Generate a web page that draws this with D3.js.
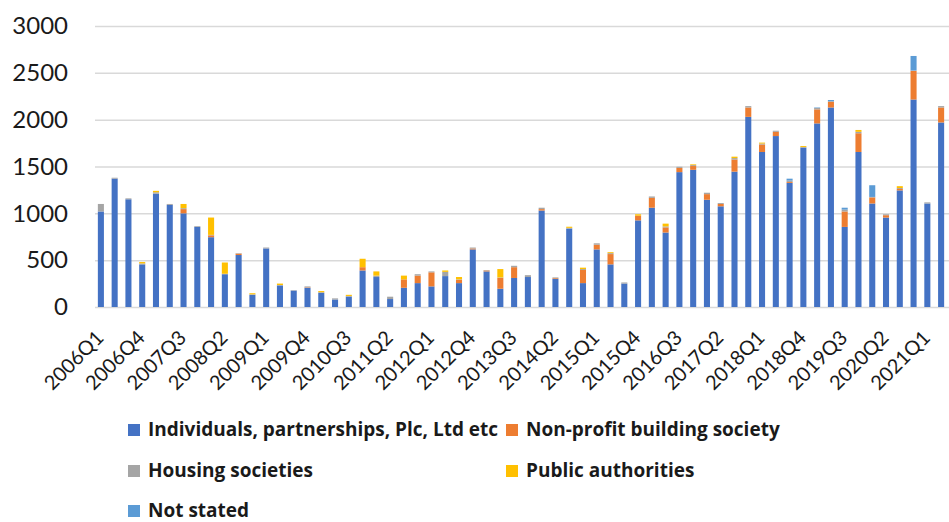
<!DOCTYPE html>
<html>
<head>
<meta charset="utf-8">
<script src="https://cdn.jsdelivr.net/npm/d3@7"></script>
<style>
  body { margin: 0; background: #fff; }
  svg { display: block; }
</style>
</head>
<body>
<div id="chart"></div>
<script>
const quarters = [
  "2006Q1","2006Q2","2006Q3","2006Q4","2007Q1","2007Q2","2007Q3","2007Q4",
  "2008Q1","2008Q2","2008Q3","2008Q4","2009Q1","2009Q2","2009Q3","2009Q4",
  "2010Q1","2010Q2","2010Q3","2010Q4","2011Q1","2011Q2","2011Q3","2011Q4",
  "2012Q1","2012Q2","2012Q3","2012Q4","2013Q1","2013Q2","2013Q3","2013Q4",
  "2014Q1","2014Q2","2014Q3","2014Q4","2015Q1","2015Q2","2015Q3","2015Q4",
  "2016Q1","2016Q2","2016Q3","2016Q4","2017Q1","2017Q2","2017Q3","2017Q4",
  "2018Q1","2018Q2","2018Q3","2018Q4","2019Q1","2019Q2","2019Q3","2019Q4",
  "2020Q1","2020Q2","2020Q3","2020Q4","2021Q1","2021Q2"
];

const tickLabels = ["2006Q1","2006Q4","2007Q3","2008Q2","2009Q1","2009Q4","2010Q3",
  "2011Q2","2012Q1","2012Q4","2013Q3","2014Q2","2015Q1","2015Q4","2016Q3","2017Q2",
  "2018Q1","2018Q4","2019Q3","2020Q2","2021Q1"];

const yTicks = [0, 500, 1000, 1500, 2000, 2500, 3000];

const individuals = [1020,1370,1150,455,1210,1090,1000,855,745,350,555,130,625,230,175,205,
  150,80,110,390,320,85,205,255,220,330,255,615,380,195,310,320,1030,300,835,255,615,455,250,925,
  1060,795,1440,1465,1145,1075,1445,2030,1655,1825,1325,1700,1960,2130,855,1655,1105,955,1245,2215,1105,1970];
const nonProfit = [0,0,0,0,0,0,45,0,20,0,15,0,0,0,0,5,
  0,0,0,35,0,0,90,80,150,0,35,10,10,115,115,0,15,8,0,140,50,110,0,50,
  105,55,45,40,60,25,130,100,80,45,10,0,150,60,165,200,65,25,15,305,0,160];
const housing = [80,10,10,10,15,10,10,8,5,5,5,5,10,5,5,10,
  8,12,8,0,15,25,0,15,10,45,5,10,5,5,15,20,15,8,10,10,15,10,12,0,
  15,10,12,10,15,10,15,15,10,12,15,8,15,8,20,15,5,10,10,5,12,15];
const publicAuth = [0,0,0,15,15,0,45,0,185,120,0,12,0,15,0,0,
  12,0,12,90,45,0,40,0,0,15,25,0,0,90,0,0,0,0,12,15,0,10,0,15,
  0,30,0,8,0,0,15,0,10,0,0,10,0,0,0,20,0,0,20,0,0,0];
const notStated = [0,0,0,0,0,0,0,0,0,0,0,0,0,0,0,0,
  0,0,0,0,0,0,0,0,0,0,0,0,0,0,0,0,0,0,0,0,0,0,0,0,
  0,0,0,0,0,0,0,0,0,0,20,0,5,12,20,0,125,0,0,155,0,0];

const seriesNames = ["Individuals, partnerships, Plc, Ltd etc", "Non-profit building society",
  "Housing societies", "Public authorities", "Not stated"];
const seriesColors = ["#4472C4", "#ED7D31", "#A5A5A5", "#FFC000", "#5B9BD5"];

const width = 949, height = 522;
const keys = ["ind", "np", "hs", "pa", "ns"];

const rows = quarters.map((q, i) => ({
  q: q, ind: individuals[i], np: nonProfit[i], hs: housing[i], pa: publicAuth[i], ns: notStated[i]
}));

const svg = d3.select("#chart").append("svg")
  .attr("width", width)
  .attr("height", height);

const x = d3.scaleBand()
  .domain(quarters)
  .range([94, 948])
  .paddingInner(0.56)
  .paddingOuter(0.28);

const y = d3.scaleLinear()
  .domain([0, 3000])
  .range([307, 26]);

// gridlines + y labels
const yAxis = svg.append("g")
  .attr("transform", "translate(95,0)")
  .call(d3.axisLeft(y).tickValues(yTicks).tickFormat(d3.format("d")).tickSize(-854).tickPadding(27));
yAxis.select(".domain").remove();
yAxis.selectAll("line").attr("stroke", "#d9d9d9").attr("stroke-width", 1.5);
yAxis.selectAll("text")
  .attr("font-family", "Lato, sans-serif")
  .attr("font-size", 24)
  .attr("fill", "#1a1a1a");

const stack = d3.stack().keys(keys);
const layers = stack(rows);

svg.append("g").selectAll("g")
  .data(layers)
  .join("g")
  .attr("fill", (d, i) => seriesColors[i])
  .selectAll("rect")
  .data(d => d)
  .join("rect")
  .attr("x", d => x(d.data.q))
  .attr("width", x.bandwidth())
  .attr("y", d => y(d[1]))
  .attr("height", d => y(d[0]) - y(d[1]));

// rotated quarter labels
svg.append("g").selectAll("text")
  .data(tickLabels)
  .join("text")
  .attr("transform", d => "translate(" + (x(d) + x.bandwidth() / 2 + 4) + ",339) rotate(-45)")
  .attr("text-anchor", "end")
  .attr("font-family", "Lato, sans-serif")
  .attr("font-size", 20)
  .attr("fill", "#1a1a1a")
  .text(d => d);

// legend
const legendPos = [[128, 436], [506, 436], [128, 477], [506, 477], [128, 517]];
const legend = svg.append("g").selectAll("g")
  .data(seriesNames)
  .join("g")
  .attr("transform", (d, i) => "translate(" + legendPos[i][0] + "," + legendPos[i][1] + ")");

legend.append("rect")
  .attr("x", 0)
  .attr("y", -12)
  .attr("width", 12)
  .attr("height", 12)
  .attr("fill", (d, i) => seriesColors[i]);

legend.append("text")
  .attr("x", 20)
  .attr("y", 0)
  .attr("font-family", "'Open Sans', sans-serif")
  .attr("font-weight", "bold")
  .attr("font-size", 19)
  .attr("fill", "#1a1a1a")
  .text(d => d);
</script>
</body>
</html>
